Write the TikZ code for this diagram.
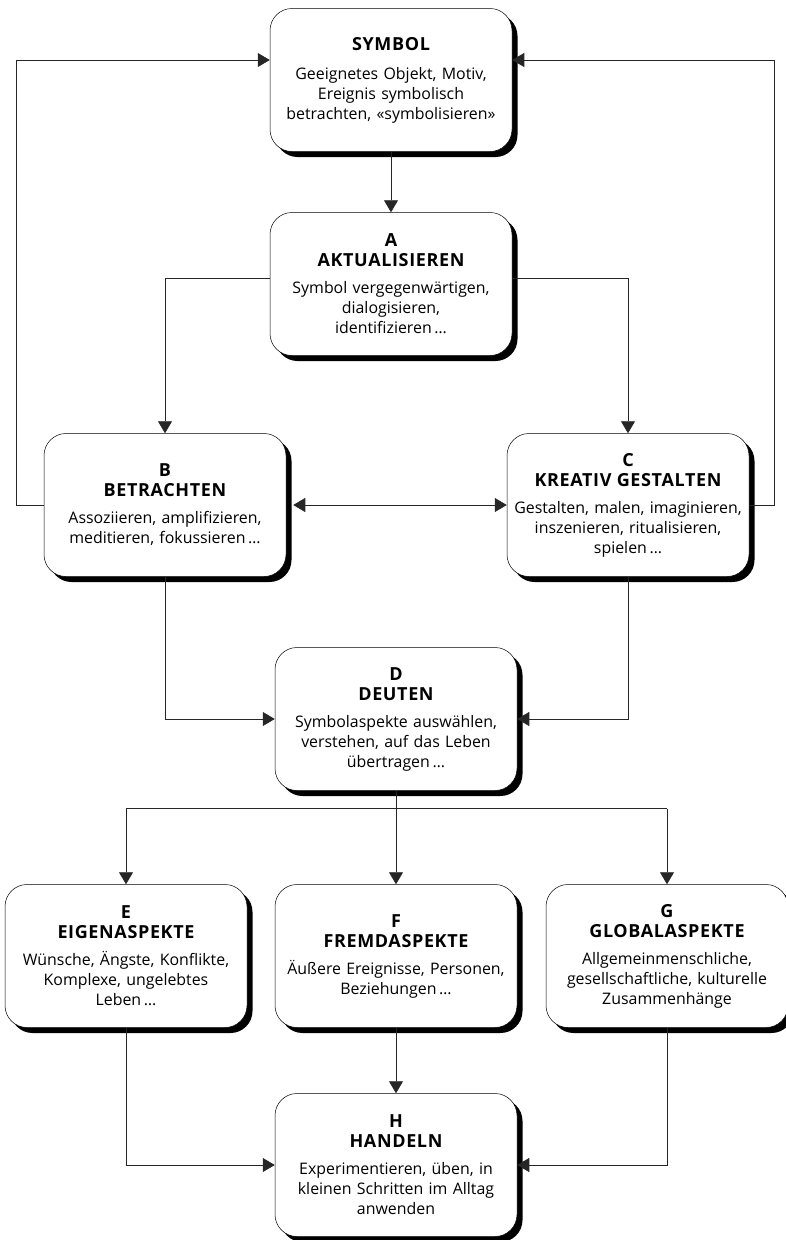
\documentclass[tikz,border=0pt]{standalone}
\usepackage{fontspec}
\setmainfont{Open Sans}
\newfontfamily\headfam[LetterSpace=3.5]{Open Sans}
\usetikzlibrary{arrows.meta, shadows, positioning}
\newcommand{\hd}[1]{{\headfam\bfseries\fontsize{18}{24}\selectfont #1}}

\begin{document}
\begin{tikzpicture}[x=1pt, y=-1pt,
  stage/.style={draw, line width=0.5pt, rounded corners=22pt, fill=white,
    minimum width=242pt, minimum height=143pt, text width=240pt,
    align=center, inner sep=1pt, font=\fontsize{15.9}{20}\selectfont,
    drop shadow={shadow xshift=5.5pt, shadow yshift=-5.5pt, fill=black, opacity=1}},
  flow/.style={line width=0.6pt, black!85, -{Triangle[length=12pt, width=14pt]}},
  link/.style={line width=0.6pt, black!85}]
  \useasboundingbox (0,0) rectangle (786,1240);

  % boxes
  \node[stage] (sym) at (391,80)
    {\hd{SYMBOL}\\[9pt] Geeignetes Objekt, Motiv,\\ Ereignis symbolisch\\ betrachten, «symbolisieren»};
  \node[stage] (akt) at (391,284)
    {\hd{A}\\ \hd{AKTUALISIEREN}\\[7pt] Symbol vergegenwärtigen,\\ dialogisieren,\\ identifizieren\,\ldots};
  \node[stage] (betr) at (165,505)
    {\hd{B}\\ \hd{BETRACHTEN}\\[7pt] Assoziieren, amplifizieren,\\ meditieren, fokussieren\,\ldots};
  \node[stage] (krea) at (628,505)
    {\hd{C}\\ \hd{KREATIV GESTALTEN}\\[7pt] Gestalten, malen, imaginieren,\\ inszenieren, ritualisieren,\\ spielen\,\ldots};
  \node[stage] (deut) at (396,719)
    {\hd{D}\\ \hd{DEUTEN}\\[7pt] Symbolaspekte auswählen,\\ verstehen, auf das Leben\\ übertragen\,\ldots};
  \node[stage] (eig) at (126,956)
    {\hd{E}\\ \hd{EIGENASPEKTE}\\[7pt] Wünsche, Ängste, Konflikte,\\ Komplexe, ungelebtes\\ Leben\,\ldots};
  \node[stage] (fremd) at (396,956)
    {\hd{F}\\ \hd{FREMDASPEKTE}\\[7pt] Äußere Ereignisse, Personen,\\ Beziehungen\,\ldots};
  \node[stage] (glob) at (667,956)
    {\hd{G}\\ \hd{GLOBALASPEKTE}\\[7pt] Allgemeinmenschliche,\\ gesellschaftliche, kulturelle\\ Zusammenhänge};
  \node[stage] (hand) at (396,1165)
    {\hd{H}\\ \hd{HANDELN}\\[7pt] Experimentieren, üben, in\\ kleinen Schritten im Alltag\\ anwenden};

  % connectors
  \draw[flow] (sym) -- (akt);
  \draw[flow] ([yshift=6pt]akt.west) -| (betr.north);
  \draw[flow] ([yshift=6pt]akt.east) -| (krea.north);
  \draw[flow] (betr.west) -- ++(-27,0) |- ([yshift=20pt]sym.west);
  \draw[flow] (krea.east) -- ++(25,0) |- ([yshift=20pt]sym.east);
  \draw[flow, {Triangle[length=12pt, width=14pt]}-{Triangle[length=12pt, width=14pt]}]
    ([xshift=7pt]betr.east) -- (krea.west);
  \draw[flow] (betr.south) |- (deut.west);
  \draw[flow] (krea.south) |- (deut.east);
  \draw[link] (deut.south) -- ++(0,18) coordinate (split);
  \draw[link] (eig.north |- split) -- (glob.north |- split);
  \draw[flow] (split) -- (fremd.north);
  \draw[flow] (eig.north |- split) -- (eig.north);
  \draw[flow] (glob.north |- split) -- (glob.north);
  \draw[flow] (eig.south) |- (hand.west);
  \draw[flow] (fremd.south) -- (hand.north);
  \draw[flow] (glob.south) |- (hand.east);
\end{tikzpicture}
\end{document}
